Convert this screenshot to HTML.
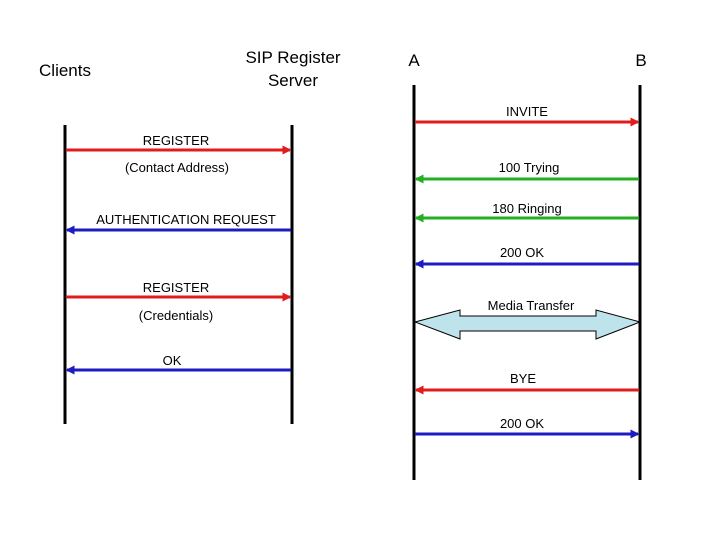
<!DOCTYPE html>
<html><head><style>body{margin:0;background:#fff}svg{display:block}text{font-family:"Liberation Sans",sans-serif}</style></head>
<body>
<svg width="720" height="540" xmlns="http://www.w3.org/2000/svg">
<defs>
<marker id="r" markerWidth="3" markerHeight="3" refX="2.5" refY="1.5" orient="auto" markerUnits="strokeWidth"><path d="M0,0L3,1.5L0,3z" fill="#e01c1c"/></marker>
<marker id="b" markerWidth="3" markerHeight="3" refX="2.5" refY="1.5" orient="auto" markerUnits="strokeWidth"><path d="M0,0L3,1.5L0,3z" fill="#1c1cc0"/></marker>
<marker id="g" markerWidth="3" markerHeight="3" refX="2.5" refY="1.5" orient="auto" markerUnits="strokeWidth"><path d="M0,0L3,1.5L0,3z" fill="#22b022"/></marker>
</defs>
<g stroke="#000" stroke-width="3">
<line x1="65" y1="125" x2="65" y2="424"/>
<line x1="292" y1="125" x2="292" y2="424"/>
<line x1="414" y1="85" x2="414" y2="480"/>
<line x1="640" y1="85" x2="640" y2="480"/>
</g>
<g font-size="17" text-anchor="middle">
<text x="65" y="76">Clients</text>
<text x="293" y="63">SIP Register</text>
<text x="293" y="86">Server</text>
<text x="414" y="66">A</text>
<text x="641" y="66">B</text>
</g>
<g stroke-width="3" fill="none">
<line x1="66" y1="150" x2="290" y2="150" stroke="#e01c1c" marker-end="url(#r)"/>
<line x1="291" y1="230" x2="67" y2="230" stroke="#1c1cc0" marker-end="url(#b)"/>
<line x1="66" y1="297" x2="290" y2="297" stroke="#e01c1c" marker-end="url(#r)"/>
<line x1="291" y1="370" x2="67" y2="370" stroke="#1c1cc0" marker-end="url(#b)"/>
<line x1="415" y1="122" x2="638" y2="122" stroke="#e01c1c" marker-end="url(#r)"/>
<line x1="639" y1="179" x2="416" y2="179" stroke="#22b022" marker-end="url(#g)"/>
<line x1="639" y1="218" x2="416" y2="218" stroke="#22b022" marker-end="url(#g)"/>
<line x1="639" y1="264" x2="416" y2="264" stroke="#1c1cc0" marker-end="url(#b)"/>
<line x1="639" y1="390" x2="416" y2="390" stroke="#e01c1c" marker-end="url(#r)"/>
<line x1="415" y1="434" x2="638" y2="434" stroke="#1c1cc0" marker-end="url(#b)"/>
</g>
<path d="M415,322 L460,310 L460,316 L596,316 L596,310 L640,322 L596,339 L596,331 L460,331 L460,339 Z" fill="#bfe3ea" stroke="#000" stroke-width="1"/>
<g font-size="13" text-anchor="middle" fill="#000">
<text x="176" y="145">REGISTER</text>
<text x="177" y="172">(Contact Address)</text>
<text x="186" y="224">AUTHENTICATION REQUEST</text>
<text x="176" y="292">REGISTER</text>
<text x="176" y="320">(Credentials)</text>
<text x="172" y="365">OK</text>
<text x="527" y="116">INVITE</text>
<text x="529" y="172">100 Trying</text>
<text x="527" y="213">180 Ringing</text>
<text x="522" y="257">200 OK</text>
<text x="531" y="310">Media Transfer</text>
<text x="523" y="383">BYE</text>
<text x="522" y="428">200 OK</text>
</g>
</svg>
</body></html>
